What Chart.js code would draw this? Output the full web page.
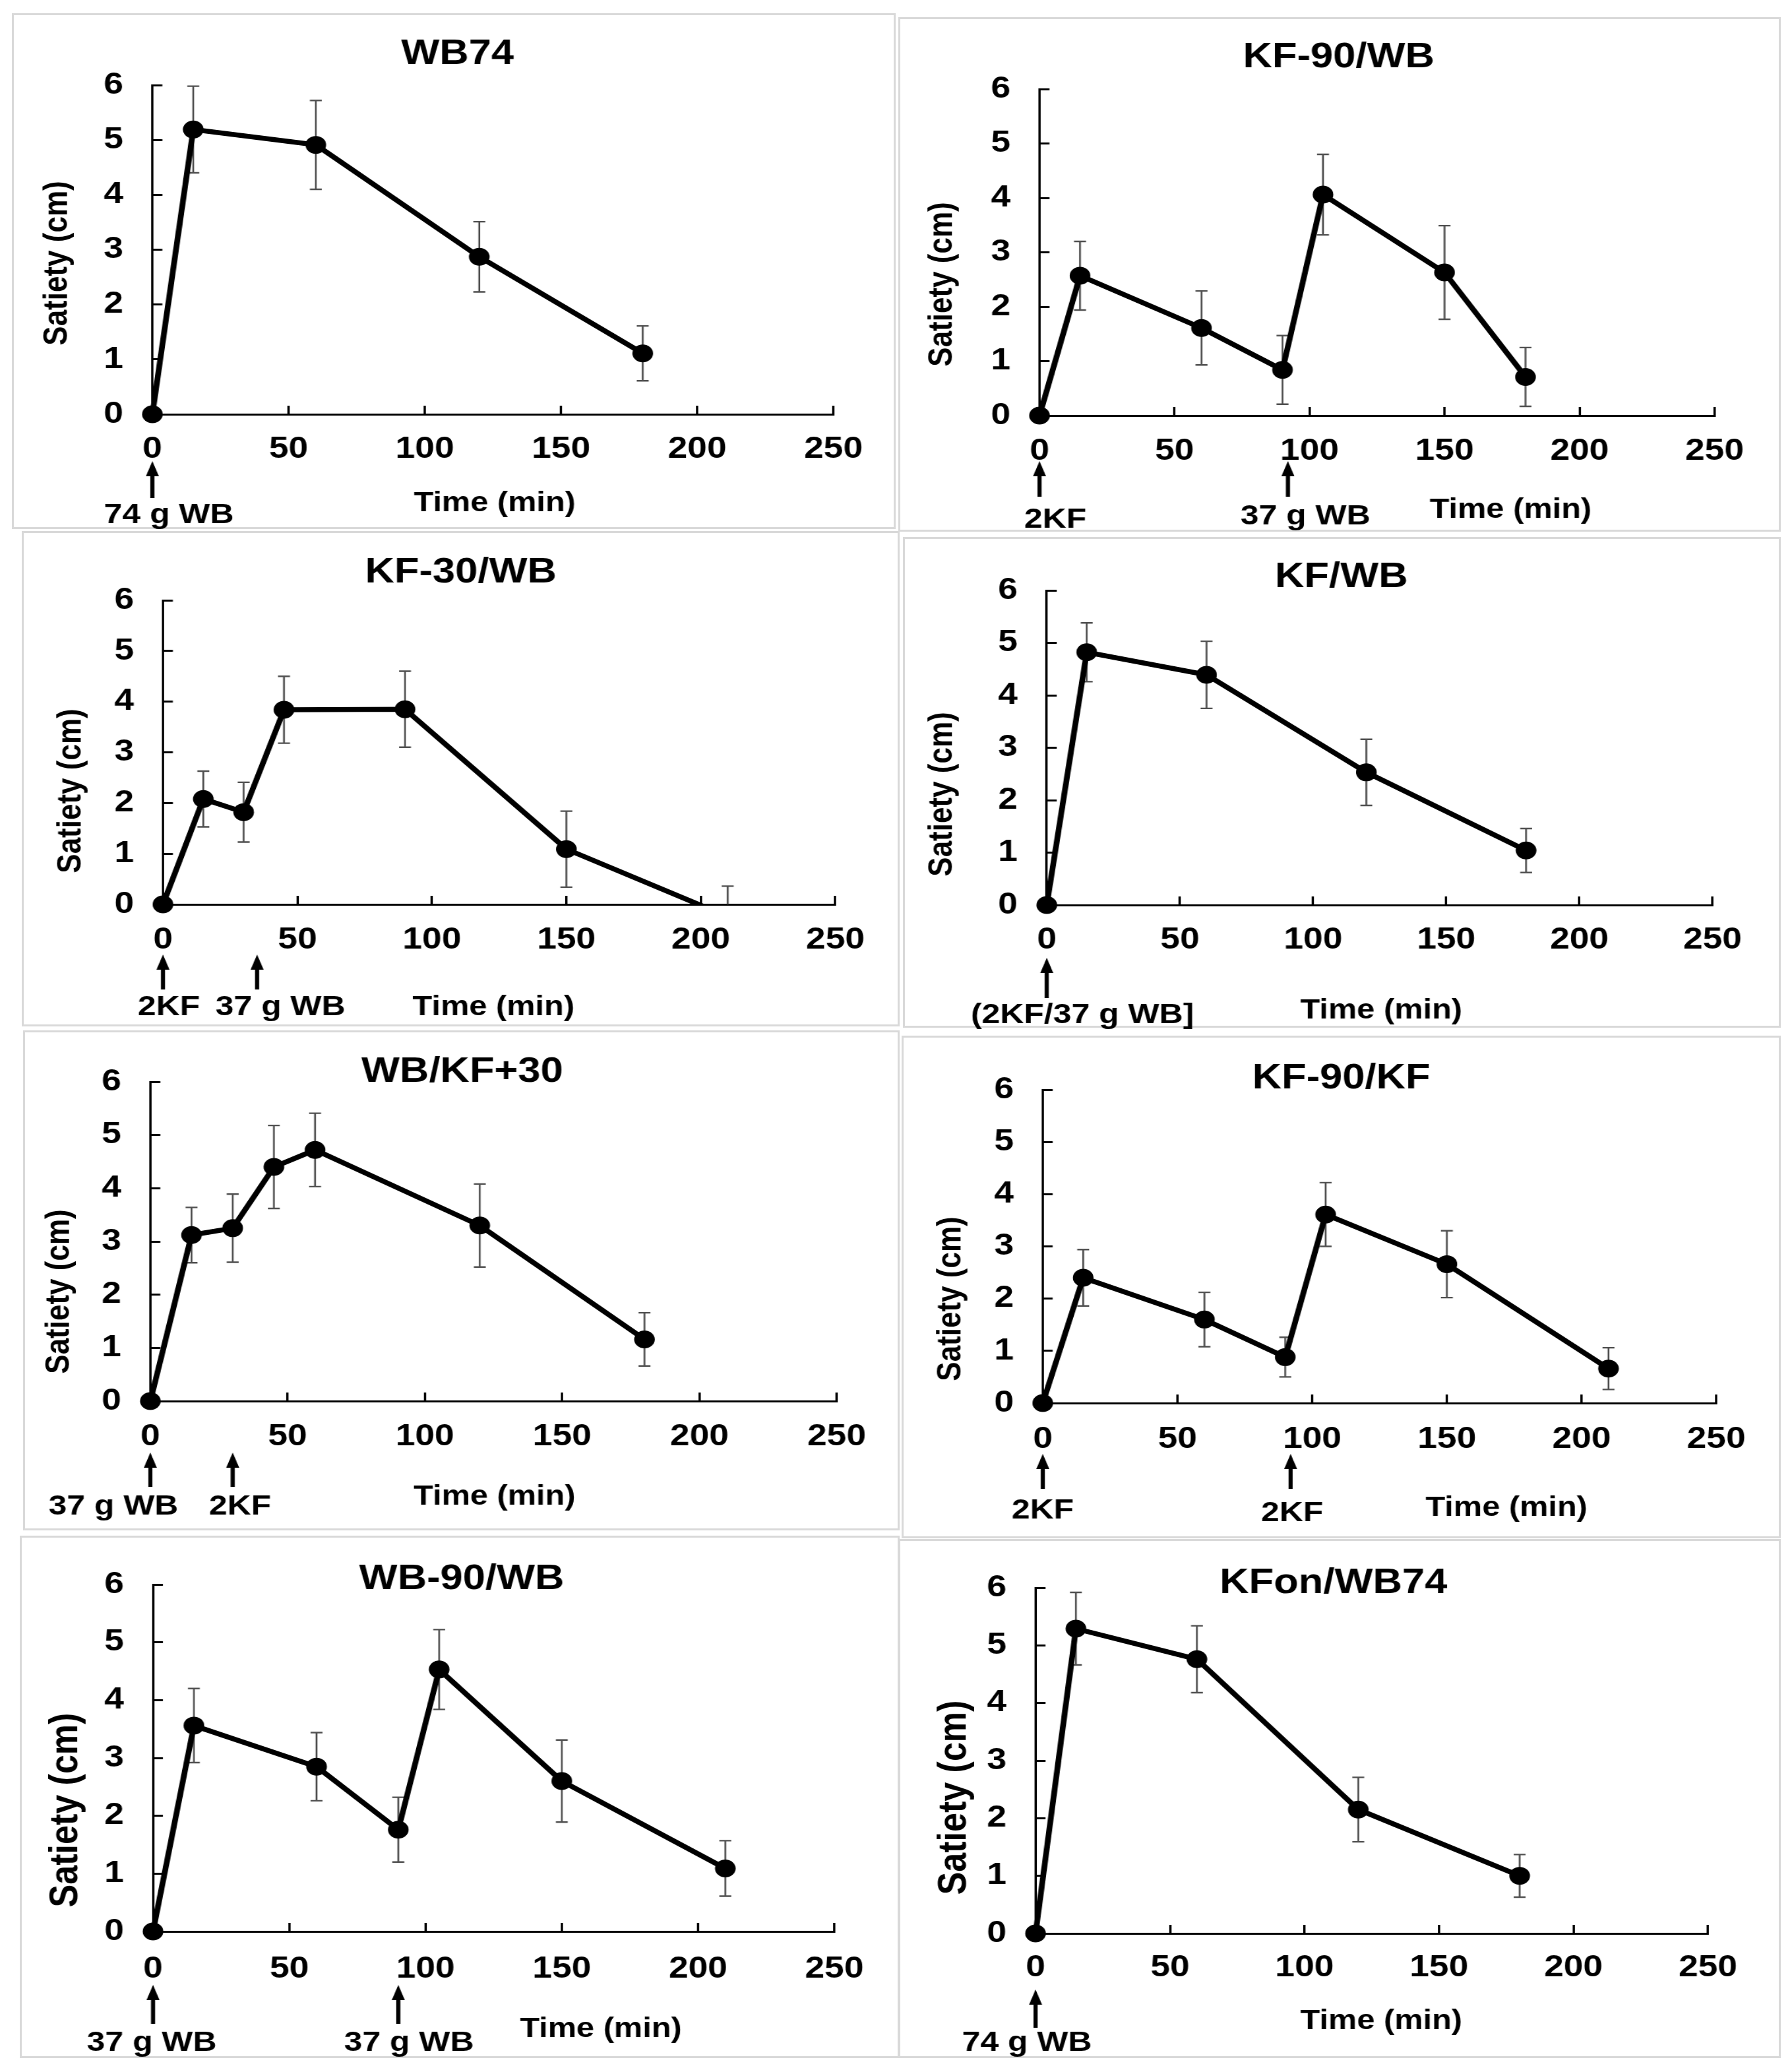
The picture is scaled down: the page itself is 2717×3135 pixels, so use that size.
<!DOCTYPE html>
<html><head><meta charset="utf-8">
<script src="https://cdn.jsdelivr.net/npm/chart.js@4.4.1/dist/chart.umd.min.js"></script>
<style>
html,body{margin:0;padding:0;background:#fff;}
body{width:2717px;height:3135px;position:relative;overflow:hidden;}
.panel{position:absolute;}
.panel canvas{position:absolute;left:0;top:0;}
.frame{position:absolute;left:0;top:0;border:3px solid #d9d9d9;box-sizing:border-box;pointer-events:none;}
</style></head><body>
<script>
// ---------- data (time in min, satiety mean and error in cm) ----------
const xTicks = [0, 50, 100, 150, 200, 250];
const yTicks = [0, 1, 2, 3, 4, 5, 6];

const wb74Time = [0, 15, 60, 120, 180];
const wb74Mean = [0, 5.19, 4.91, 2.87, 1.11];
const wb74Err  = [0, 0.79, 0.81, 0.64, 0.50];

const kf90wbTime = [0, 15, 60, 90, 105, 150, 180];
const kf90wbMean = [0, 2.57, 1.61, 0.84, 4.06, 2.63, 0.71];
const kf90wbErr  = [0, 0.63, 0.68, 0.63, 0.74, 0.86, 0.54];

const kf30wbTime = [0, 15, 30, 45, 90, 150, 210];
const kf30wbMean = [0, 2.08, 1.82, 3.84, 3.85, 1.09, -0.24];
const kf30wbErr  = [0, 0.55, 0.59, 0.66, 0.75, 0.75, 0.60];

const kfwbTime = [0, 15, 60, 120, 180];
const kfwbMean = [0, 4.82, 4.39, 2.53, 1.04];
const kfwbErr  = [0, 0.56, 0.64, 0.63, 0.42];

const wbkf30Time = [0, 15, 30, 45, 60, 120, 180];
const wbkf30Mean = [0, 3.12, 3.25, 4.40, 4.72, 3.30, 1.16];
const wbkf30Err  = [0, 0.52, 0.64, 0.78, 0.69, 0.78, 0.50];

const kf90kfTime = [0, 15, 60, 90, 105, 150, 210];
const kf90kfMean = [0, 2.40, 1.60, 0.88, 3.61, 2.66, 0.66];
const kf90kfErr  = [0, 0.54, 0.52, 0.38, 0.61, 0.64, 0.40];

const wb90wbTime = [0, 15, 60, 90, 105, 150, 210];
const wb90wbMean = [0, 3.56, 2.85, 1.76, 4.53, 2.60, 1.09];
const wb90wbErr  = [0, 0.64, 0.59, 0.56, 0.69, 0.71, 0.48];

const kfonTime = [0, 15, 60, 120, 180];
const kfonMean = [0, 5.29, 4.76, 2.15, 1.00];
const kfonErr  = [0, 0.63, 0.58, 0.56, 0.37];

// ---------- layout (page pixels) ----------
const S = 1.16;           // horizontal stretch of the original figure
const FONT = '"Liberation Sans", Arial, sans-serif';
const EXTRA = 22;         // canvas may overflow the frame at the bottom

const panels = [
  {title:'WB74', time:wb74Time, mean:wb74Mean, err:wb74Err,
   box:[18,20,1358,802], axis:[231,1272,129,628,681], titleY:82, yTitle:[87,399,44], xTitle:[750,763],
   arrows:[[0,699,755]], labels:[['74 g WB',256,781]]},
  {title:'KF-90/WB', time:kf90wbTime, mean:kf90wbMean, err:kf90wbErr,
   box:[1362,26,2700,806], axis:[1576,2599,135,630,684], titleY:87, yTitle:[1429,431,44], xTitle:[2290,773],
   arrows:[[0,699,753],[92,699,753]], labels:[['2KF',1600,788],['37 g WB',1979,783]]},
  {title:'KF-30/WB', time:kf30wbTime, mean:kf30wbMean, err:kf30wbErr,
   box:[33,805,1364,1556], axis:[247,1266,910,1371,1425], titleY:868, yTitle:[108,1199,44], xTitle:[748,1527],
   arrows:[[0,1447,1500],[35,1447,1500]], labels:[['2KF',256,1527],['37 g WB',425,1527]]},
  {title:'KF/WB', time:kfwbTime, mean:kfwbMean, err:kfwbErr,
   box:[1369,814,2700,1558], axis:[1587,2596,895,1372,1425], titleY:875, yTitle:[1429,1204,44], xTitle:[2094,1532],
   arrows:[[0,1452,1513]], labels:[['(2KF/37 g WB]',1641,1539]]},
  {title:'WB/KF+30', time:wbkf30Time, mean:wbkf30Mean, err:wbkf30Err,
   box:[35,1562,1364,2320], axis:[228,1290,1640,2124,2178], titleY:1625, yTitle:[91,1958,44], xTitle:[750,2269],
   arrows:[[0,2202,2254],[30,2202,2254]], labels:[['37 g WB',172,2284],['2KF',364,2284]]},
  {title:'KF-90/KF', time:kf90kfTime, mean:kf90kfMean, err:kf90kfErr,
   box:[1367,1570,2700,2332], axis:[1581,2602,1652,2127,2182], titleY:1635, yTitle:[1442,1969,44], xTitle:[2284,2286],
   arrows:[[0,2204,2257],[92,2204,2257]], labels:[['2KF',1581,2290],['2KF',1959,2294]]},
  {title:'WB-90/WB', time:wb90wbTime, mean:wb90wbMean, err:wb90wbErr,
   box:[30,2328,1364,3120], axis:[232,1284,2398,2928,2985], titleY:2390, yTitle:[100,2744,52], xTitle:[911,3076],
   arrows:[[0,3009,3068],[90,3009,3068]], labels:[['37 g WB',230,3097],['37 g WB',620,3097]]},
  {title:'KFon/WB74', time:kfonTime, mean:kfonMean, err:kfonErr,
   box:[1362,2333,2700,3120], axis:[1570,2589,2402,2931,2983], titleY:2395, yTitle:[1447,2725,52], xTitle:[2094,3064],
   arrows:[[0,3016,3074]], labels:[['74 g WB',1557,3097]]}
];

function makePanel(p){
  const [L,T,R,B] = p.box;
  const W = R - L, H = B - T, Hc = H + EXTRA;
  const Wl = Math.round(W / S);
  const div = document.createElement('div');
  div.className = 'panel';
  Object.assign(div.style, {left:L+'px', top:T+'px', width:W+'px', height:Hc+'px'});
  const fr = document.createElement('div'); fr.className = 'frame';
  fr.style.width = W + 'px'; fr.style.height = H + 'px';
  div.appendChild(fr);
  const cv = document.createElement('canvas');
  cv.setAttribute('width', Wl); cv.setAttribute('height', Hc);
  cv.style.width = W + 'px'; cv.style.height = Hc + 'px';
  div.appendChild(cv);
  document.body.appendChild(div);

  const lx = x => (x - L) / S, ly = y => y - T;
  const [ax0, ax250, ay6, ay0, tickY] = p.axis;
  const cl = lx(ax0), cr = lx(ax250), ct = ly(ay6), cb = ly(ay0);
  const WY = 100, HX = 110, TF = 53, TL = 13, TICKF = 46;
  const tc = ly(p.titleY);

  const pts = p.time.map((t, i) => ({x: t, y: p.mean[i]}));
  const radii = p.mean.map(v => v < 0 ? 0 : 13.5);

  const errorBars = {
    id: 'errorBars',
    beforeDatasetsDraw(chart){
      const {ctx, chartArea, scales:{x, y}} = chart;
      ctx.save();
      ctx.beginPath();
      ctx.rect(chartArea.left - 40, chartArea.top - 40, chartArea.width + 80, chartArea.height + 40);
      ctx.clip();
      ctx.strokeStyle = '#505050';
      ctx.lineWidth = 2.4;
      const cap = 7.8;
      p.time.forEach((t, i) => {
        const e = p.err[i];
        if (!e) return;
        const px = x.getPixelForValue(t);
        const top = y.getPixelForValue(p.mean[i] + e);
        const bot = y.getPixelForValue(p.mean[i] - e);
        ctx.beginPath();
        ctx.moveTo(px, top); ctx.lineTo(px, bot);
        ctx.moveTo(px - cap, top); ctx.lineTo(px + cap, top);
        ctx.moveTo(px - cap, bot); ctx.lineTo(px + cap, bot);
        ctx.stroke();
      });
      ctx.restore();
    }
  };

  const notes = {
    id: 'notes',
    afterDraw(chart){
      const {ctx, scales:{x}} = chart;
      ctx.save();
      ctx.fillStyle = '#000'; ctx.strokeStyle = '#000';
      ctx.textAlign = 'center'; ctx.textBaseline = 'middle';
      // y axis title
      ctx.save();
      ctx.translate(lx(p.yTitle[0]), ly(p.yTitle[1]));
      ctx.rotate(-Math.PI / 2);
      ctx.font = `bold ${p.yTitle[2]}px ${FONT}`;
      ctx.fillText('Satiety (cm)', 0, 0);
      ctx.restore();
      // x axis title
      ctx.font = `bold 42px ${FONT}`;
      ctx.fillText('Time (min)', lx(p.xTitle[0]), ly(p.xTitle[1]));
      // arrows marking intake times
      p.arrows.forEach(([t, tip, bot]) => {
        const ax = x.getPixelForValue(t);
        const ty = ly(tip), by = ly(bot);
        ctx.lineWidth = 5.4;
        ctx.beginPath(); ctx.moveTo(ax, by); ctx.lineTo(ax, ty + 16); ctx.stroke();
        ctx.beginPath(); ctx.moveTo(ax, ty); ctx.lineTo(ax - 8.5, ty + 23); ctx.lineTo(ax + 8.5, ty + 23);
        ctx.closePath(); ctx.fill();
      });
      ctx.font = `bold 43px ${FONT}`;
      p.labels.forEach(([txt, xx, yy]) => ctx.fillText(txt, lx(xx), ly(yy)));
      ctx.restore();
    }
  };

  new Chart(cv, {
    type: 'line',
    data: {
      datasets: [
        {data: pts, borderColor:'#000', borderWidth:7.5, pointRadius:0, fill:false, tension:0,
         clip:{left:40, top:40, right:40, bottom:0}},
        {data: pts, showLine:false, pointRadius:radii, pointBackgroundColor:'#000',
         pointBorderWidth:0, pointBorderColor:'#000', clip:false}
      ]
    },
    options: {
      responsive:false, animation:false, events:[],
      layout:{padding:{left:cl - WY, right:Wl - cr, top:0, bottom:Hc - cb - HX}},
      plugins:{
        legend:{display:false}, tooltip:{enabled:false},
        title:{display:true, text:p.title, color:'#000',
               font:{family:FONT, size:TF, weight:'bold', lineHeight:1},
               padding:{top:tc - TF/2, bottom:ct - (tc + TF/2)}}
      },
      scales:{
        x:{type:'linear', min:0, max:250,
           afterFit:s => { s.height = HX; },
           afterBuildTicks:s => { s.ticks = xTicks.map(v => ({value:v})); },
           ticks:{color:'#000', font:{family:FONT, size:TICKF, weight:'bold', lineHeight:1},
                  padding:(tickY - ay0) + TL - TICKF/2, maxRotation:0, autoSkip:false},
           grid:{drawOnChartArea:false, drawTicks:true, tickLength:-TL, tickColor:'#000', tickWidth:3},
           border:{display:true, color:'#000', width:3}},
        y:{type:'linear', min:0, max:6,
           afterFit:s => { s.width = WY; },
           afterBuildTicks:s => { s.ticks = yTicks.map(v => ({value:v})); },
           ticks:{color:'#000', font:{family:FONT, size:TICKF, weight:'bold', lineHeight:1},
                  padding:51, autoSkip:false},
           grid:{drawOnChartArea:false, drawTicks:true, tickLength:-TL, tickColor:'#000', tickWidth:3},
           border:{display:true, color:'#000', width:3}}
      }
    },
    plugins:[errorBars, notes]
  });
}

panels.forEach(makePanel);
</script>
</body></html>
